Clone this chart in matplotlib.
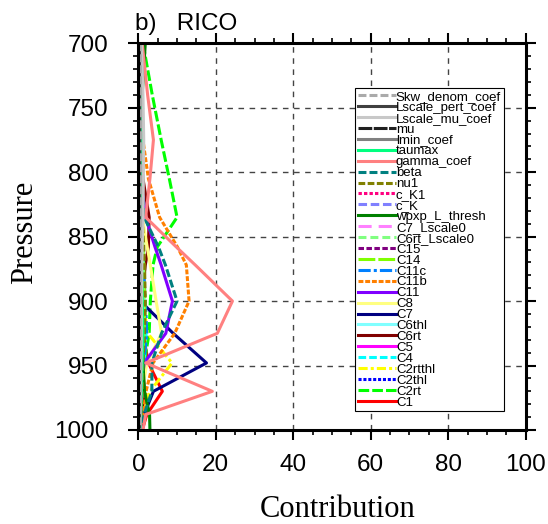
import numpy as np
import matplotlib
matplotlib.use('Agg')
from matplotlib import pyplot as plt
from matplotlib.ticker import MultipleLocator

plt.rcParams['font.family'] = ['Liberation Sans', 'DejaVu Sans']

# pressure levels (mb)
levels = [700, 740, 775, 805, 835, 858, 872, 900, 925, 948, 970, 988, 1000]

# contribution of each parameter
names = ['C1', 'C2rt', 'C2thl', 'C2rtthl', 'C4', 'C5', 'C6rt', 'C6thl', 'C7', 'C8',
         'C11', 'C11b', 'C11c', 'C14', 'C15', 'C6rt_Lscale0', 'C7_Lscale0',
         'wpxp_L_thresh', 'c_K', 'c_K1', 'nu1', 'beta', 'gamma_coef', 'taumax',
         'lmin_coef', 'mu', 'Lscale_mu_coef', 'Lscale_pert_coef', 'Skw_denom_coef']

C1 = [0.2, 0.1, 0.1, 0.1, 0.2, 0.3, 0.4, 0.6, 1.2, 2.6, 6.2, 2.2, 1.0]
C2rt = [1.2, 3.6, 5.9, 8.0, 10.0, 4.9, 3.8, 3.1, 2.8, 1.5, 1.0, 0.8, 0.5]
C2thl = [0.3, 0.2, 0.2, 0.2, 0.3, 0.4, 0.5, 0.6, 0.8, 1.2, 0.8, 0.5, 0.3]
C2rtthl = [0.1, 0.1, 0.1, 0.1, 0.2, 0.4, 0.6, 1.2, 2.4, 8.7, 3.0, 1.0, 0.5]
C4 = [0.2, 0.2, 0.2, 0.3, 0.5, 0.8, 1.0, 1.5, 2.0, 1.5, 1.2, 0.8, 0.4]
C5 = [0.1, 0.1, 0.1, 0.2, 0.3, 0.5, 0.6, 0.8, 1.0, 0.8, 0.6, 0.4, 0.2]
C6rt = [0.2, 0.3, 0.5, 1.2, 2.8, 2.6, 1.8, 0.9, 0.7, 1.0, 1.6, 0.8, 0.4]
C6thl = [0.1, 0.1, 0.2, 0.3, 0.6, 1.0, 1.2, 1.4, 1.2, 0.7, 0.5, 0.3, 0.2]
C7 = [0.0, 0.0, 0.0, 0.0, 0.1, 0.1, 0.2, 0.5, 9.0, 17.6, 3.9, 1.5, 0.5]
C8 = [0.1, 0.1, 0.2, 0.4, 1.0, 2.3, 3.1, 4.6, 6.0, 2.2, 1.0, 0.5, 0.3]
C11 = [0.1, 0.2, 0.3, 0.6, 1.9, 4.3, 5.9, 8.8, 7.1, 1.5, 0.8, 0.5, 0.3]
C11b = [0.3, 0.5, 1.2, 2.6, 5.5, 10.1, 12.4, 13.1, 9.4, 3.8, 2.0, 1.2, 0.8]
C11c = [0.1, 0.1, 0.2, 0.3, 0.6, 1.0, 1.3, 1.8, 2.2, 1.4, 1.0, 0.6, 0.3]
C14 = [0.2, 0.3, 0.4, 0.6, 0.9, 1.2, 1.4, 1.7, 1.5, 1.0, 0.8, 0.5, 0.3]
C15 = [0.1, 0.1, 0.2, 0.2, 0.3, 0.4, 0.5, 0.7, 0.8, 0.6, 0.5, 0.3, 0.2]
C6rt_Lscale0 = [0.2, 0.3, 0.4, 0.5, 0.7, 1.0, 1.2, 1.4, 1.2, 0.8, 0.6, 0.4, 0.3]
C7_Lscale0 = [0.1, 0.1, 0.2, 0.2, 0.3, 0.4, 0.5, 0.6, 0.6, 0.5, 0.4, 0.3, 0.2]
wpxp_L_thresh = [1.8, 1.0, 0.6, 0.4, 0.3, 0.5, 0.6, 0.8, 1.0, 1.2, 1.6, 2.9, 3.0]
c_K = [0.8, 1.0, 0.8, 0.6, 0.5, 0.5, 0.5, 0.6, 0.7, 0.6, 0.5, 0.4, 0.3]
c_K1 = [0.2, 0.2, 0.2, 0.3, 0.4, 0.5, 0.5, 0.5, 0.4, 0.4, 0.3, 0.3, 0.2]
nu1 = [0.3, 0.4, 0.5, 0.7, 1.0, 1.4, 1.6, 1.8, 1.6, 1.2, 1.0, 0.7, 0.4]
beta = [0.2, 0.3, 0.5, 0.8, 1.5, 5.2, 7.0, 10.0, 6.0, 3.5, 3.5, 1.5, 0.8]
gamma_coef = [1.0, 2.4, 3.9, 3.0, 1.9, 9.8, 14.7, 24.3, 20.4, 1.9, 19.1, 1.9, 1.2]
taumax = [0.5, 0.8, 1.0, 1.0, 0.9, 0.8, 0.8, 1.0, 1.2, 1.0, 0.8, 0.6, 0.4]
lmin_coef = [0.3, 0.4, 0.4, 0.4, 0.4, 0.4, 0.4, 0.4, 0.4, 0.4, 0.4, 0.3, 0.3]
mu = [0.2, 0.2, 0.2, 0.2, 0.2, 0.2, 0.2, 0.2, 0.2, 0.2, 0.2, 0.2, 0.2]
Lscale_mu_coef = [0.8, 1.2, 1.4, 1.3, 1.2, 1.0, 0.9, 0.8, 0.8, 0.7, 0.6, 0.5, 0.4]
Lscale_pert_coef = [0.3, 0.3, 0.3, 0.3, 0.3, 0.3, 0.3, 0.3, 0.3, 0.3, 0.3, 0.3, 0.3]
Skw_denom_coef = [0.5, 0.6, 0.6, 0.6, 0.6, 0.6, 0.6, 0.6, 0.6, 0.6, 0.6, 0.5, 0.5]

values = [C1, C2rt, C2thl, C2rtthl, C4, C5, C6rt, C6thl, C7, C8, C11, C11b, C11c,
          C14, C15, C6rt_Lscale0, C7_Lscale0, wpxp_L_thresh, c_K, c_K1, nu1, beta,
          gamma_coef, taumax, lmin_coef, mu, Lscale_mu_coef, Lscale_pert_coef,
          Skw_denom_coef]

colors = ['#ff0000', '#00ff00', '#0000ff', '#ffff00', '#00ffff', '#ff00ff', '#800000',
          '#80ffff', '#000080', '#ffff80', '#8000ff', '#ff8000', '#0080ff', '#80ff00',
          '#800080', '#80ff80', '#ff80ff', '#008000', '#8080ff', '#ff0080', '#808000',
          '#008080', '#ff8080', '#00ff7f', '#808080', '#202020', '#c8c8c8', '#404040',
          '#aaaaaa']

styles = ['-', (0, (3.5, 1.0)), (0, (1.0, 0.6)), (0, (3, 1, 1, 1)), (0, (2.5, 1.0)),
          '-', '-', '-', '-', '-', '-', (0, (1.6, 0.6)), (0, (4, 1, 1, 1)),
          (0, (5.5, 1.0)), (0, (1.8, 0.8)), (0, (2.6, 1.3)), (0, (4.3, 2.3)), '-',
          (0, (2.8, 1.2)), (0, (1.1, 0.7)), (0, (2.2, 0.8)), (0, (2.6, 1.0)), '-', '-',
          '-', (0, (4.5, 0.5)), '-', '-', (0, (2.6, 1.0))]

fig = plt.figure(figsize=(5.48, 5.24), dpi=100)
ax = fig.add_axes([0.2524, 0.1794, 0.7069, 0.738])

handles = []
for name, v, c, ls in zip(names, values, colors, styles):
    h, = ax.plot(v, levels, color=c, linestyle=ls, linewidth=2.2, label=name)
    handles.append(h)

ax.set_xlim(0, 100)
ax.set_ylim(1000, 700)
ax.set_xticks([0, 20, 40, 60, 80, 100])
ax.set_yticks([700, 750, 800, 850, 900, 950, 1000])
ax.xaxis.set_minor_locator(MultipleLocator(5))
ax.yaxis.set_minor_locator(MultipleLocator(10))
ax.tick_params(which='both', direction='out', top=True, right=True, labelsize=17.5)
ax.tick_params(which='major', length=7.2, width=1.5)
ax.tick_params(which='minor', length=3.6, width=1.2)
ax.tick_params(axis='y', pad=14)
ax.tick_params(axis='x', pad=10)
for s in ax.spines.values():
    s.set_linewidth(2.2)

ax.grid(True, which='major', linestyle=(0, (4, 4)), color='#444444', linewidth=1.0)

leg = ax.legend(handles[::-1], names[::-1], loc='upper left',
                bbox_to_anchor=(0.5594, 0.8844), borderaxespad=0, fontsize=9.5,
                labelspacing=-0.10, handlelength=2.9, handletextpad=0.0,
                borderpad=0.2, fancybox=False, framealpha=1, edgecolor='black')
leg.get_frame().set_linewidth(0.8)

fig.text(0.2464, 0.943, 'b)   RICO', fontsize=17.5, ha='left', va='baseline')
fig.text(0.617, 0.0134, 'Contribution', fontsize=22, family='Liberation Serif',
         ha='center', va='baseline')
fig.text(0.0456, 0.557, 'Pressure', fontsize=22, family='Liberation Serif',
         ha='center', va='center', rotation=90)

fig.savefig('out.png', dpi=100)
